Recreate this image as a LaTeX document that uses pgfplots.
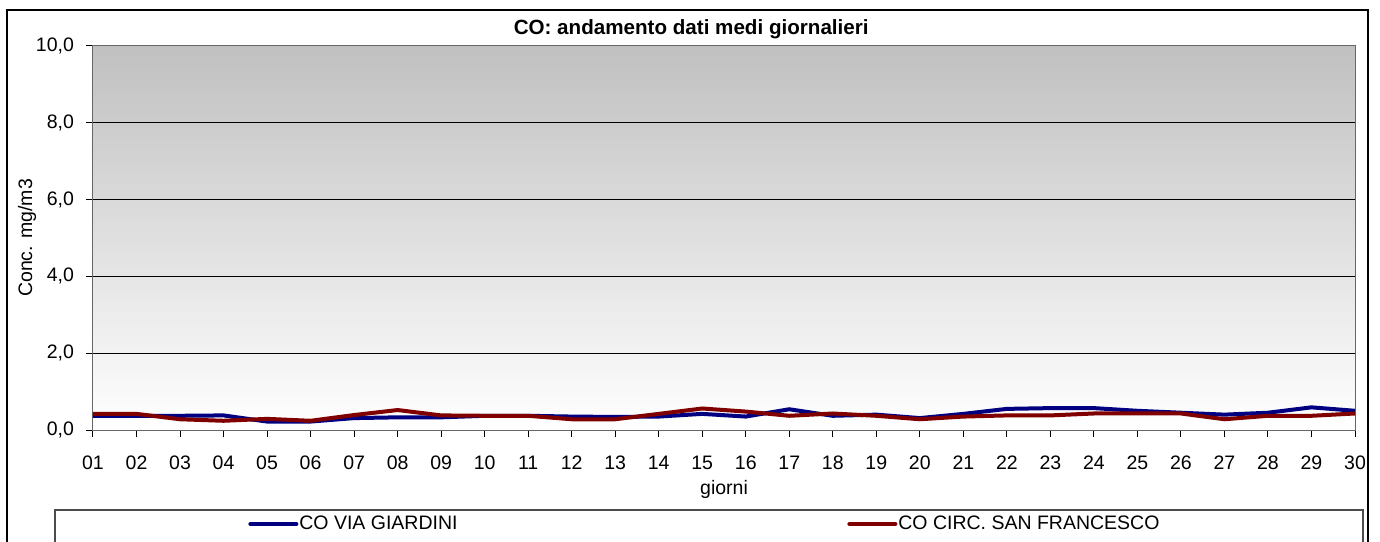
\documentclass[border=0pt]{standalone}
\usepackage{pgfplots}
\pgfplotsset{compat=1.18}
\usepackage{fontspec}
\setmainfont{Liberation Sans}
\definecolor{bgtop}{RGB}{192,192,192}
\definecolor{cblue}{RGB}{0,0,128}
\definecolor{cred}{RGB}{128,0,0}
\pgfplotstableread{
day blue red
1 0.37 0.42
2 0.37 0.42
3 0.37 0.28
4 0.38 0.24
5 0.22 0.29
6 0.22 0.24
7 0.31 0.39
8 0.33 0.52
9 0.33 0.38
10 0.37 0.37
11 0.37 0.37
12 0.35 0.28
13 0.34 0.28
14 0.35 0.42
15 0.42 0.56
16 0.35 0.48
17 0.54 0.37
18 0.37 0.43
19 0.40 0.37
20 0.31 0.28
21 0.42 0.35
22 0.55 0.38
23 0.57 0.38
24 0.57 0.43
25 0.50 0.43
26 0.45 0.43
27 0.40 0.28
28 0.45 0.37
29 0.59 0.37
30 0.50 0.43
}\datatable
\begin{document}
\begin{tikzpicture}[x=0.5pt,y=0.5pt]
% page frame (1px = 0.5pt), origin at axis lower-left (px 93,430)
\path[use as bounding box] (-93,-111) rectangle (1287,430);
\draw[black, line width=0.6pt] (-86,-130) rectangle (1275,420);
\draw[black!70, line width=0.6pt] (-38,-130) rectangle (1270,-80);
\begin{axis}[
  at={(0,0)}, anchor=south west,
  scale only axis, width=631pt, height=192pt,
  xmin=1, xmax=30, ymin=0, ymax=10,
  xtick={1,...,30},
  xticklabels={01,02,03,04,05,06,07,08,09,10,11,12,13,14,15,16,17,18,19,20,21,22,23,24,25,26,27,28,29,30},
  ytick={0,2,...,10},
  yticklabel style={xshift=-2.5pt, /pgf/number format/.cd, fixed, fixed zerofill, precision=1, use comma, assume math mode=true},
  xticklabel style={yshift=-6pt},
  tick pos=left, tick align=outside, major tick length=3.5pt,
  tick style={black, line width=0.5pt},
  ymajorgrids, major grid style={black, line width=0.5pt},
  axis line style={black!60, line width=0.5pt},
  axis background/.style={top color=bgtop, bottom color=white},
  tick label style={font=\fontsize{9.75}{11}\selectfont},
  title={\bfseries CO: andamento dati medi giornalieri},
  title style={font=\fontsize{10.3}{12}\selectfont, at={(axis description cs:0.474,1.0125)}, anchor=center},
  xlabel={giorni},
  xlabel style={font=\fontsize{9.75}{11}\selectfont, at={(axis description cs:0.5,-0.156)}, anchor=center},
  ylabel={Conc. mg/m3},
  ylabel style={font=\fontsize{9.75}{11}\selectfont, at={(axis description cs:-0.0523,0.5)}, anchor=center},
  legend columns=2,
  legend style={at={(axis description cs:0.1228,-0.245)}, anchor=west, draw=none, fill=none,
    inner sep=0pt, font=\fontsize{9.75}{11}\selectfont, column sep=0pt, nodes={inner sep=0.5pt}},
  legend image code/.code={\draw[#1, line cap=round] (0pt,0pt) -- (23pt,0pt);},
]
\addplot[cblue, line width=2pt] table[x=day, y=blue] {\datatable};
\addlegendentry{\makebox[273.5pt][l]{CO VIA GIARDINI}}
\addplot[cred, line width=2pt] table[x=day, y=red] {\datatable};
\addlegendentry{CO CIRC. SAN FRANCESCO}
\end{axis}
\end{tikzpicture}
\end{document}
